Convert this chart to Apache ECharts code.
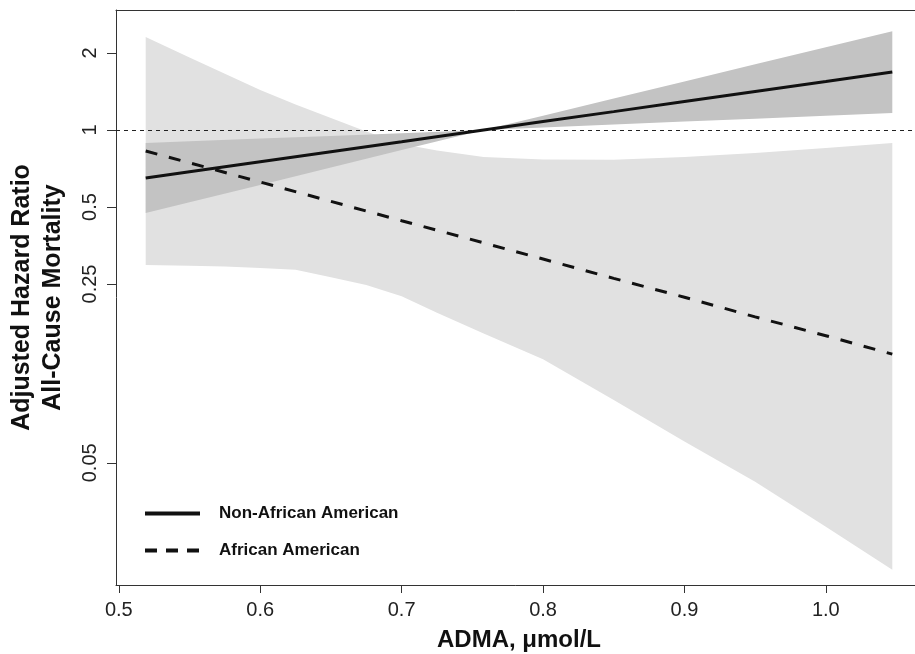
<!DOCTYPE html>
<html><head><meta charset="utf-8">
<script src="https://cdn.jsdelivr.net/npm/echarts@6/dist/echarts.min.js"></script>
<style>html,body{margin:0;padding:0;background:#fff}#c{width:915px;height:654px}</style>
</head><body><div id="c"></div>
<script>
// ADMA (µmol/L) positions where the fitted lines and the Non-African American band were read
const admaX = [0.519, 0.55, 0.60, 0.65, 0.70, 0.758, 0.80, 0.85, 0.90, 0.95, 1.00, 1.047];
// Non-African American: hazard ratio fit and 95% CI
const nonAAFit   = [0.649, 0.687, 0.752, 0.823, 0.900, 1.000, 1.079, 1.180, 1.292, 1.414, 1.547, 1.686];
const nonAALower = [0.474, 0.522, 0.610, 0.714, 0.835, 1.000, 1.023, 1.050, 1.079, 1.107, 1.136, 1.165];
const nonAAUpper = [0.890, 0.903, 0.926, 0.948, 0.972, 1.000, 1.138, 1.328, 1.549, 1.806, 2.107, 2.435];
// African American: hazard ratio fit (at admaX)
const aaFit   = [0.828, 0.744, 0.626, 0.526, 0.442, 0.362, 0.313, 0.263, 0.222, 0.186, 0.157, 0.133];
// African American 95% CI, read at its own ADMA positions
const aaBandX = [0.519, 0.55, 0.575, 0.60, 0.625, 0.65, 0.675, 0.70, 0.725, 0.758, 0.80, 0.85, 0.90, 0.95, 1.00, 1.047];
const aaLower = [0.297, 0.295, 0.293, 0.289, 0.284, 0.266, 0.248, 0.224, 0.193, 0.160, 0.127, 0.088, 0.0606, 0.0422, 0.0281, 0.0191];
const aaUpper = [2.31, 1.92, 1.66, 1.433, 1.258, 1.114, 0.987, 0.882, 0.832, 0.784, 0.767, 0.765, 0.784, 0.813, 0.850, 0.890];
// Axis ticks
const xTicks = [0.5, 0.6, 0.7, 0.8, 0.9, 1.0];
const xTickLabels = ['0.5', '0.6', '0.7', '0.8', '0.9', '1.0'];
const yTicks = [0.05, 0.25, 0.5, 1, 2];
const yTickLabels = ['0.05', '0.25', '0.5', '1', '2'];
const seriesNames = ['Non-African American', 'African American'];
const xTitle = 'ADMA, μmol/L';
const yTitle = 'Adjusted Hazard Ratio\nAll-Cause Mortality';

const FONT = '"Liberation Sans", Arial, Helvetica, sans-serif';
const ln = Math.log;
const X_MIN = 0.498, X_MAX = 1.068;

function nearestLabel(v, ticks, labels, f) {
  let best = 0, d = Infinity;
  ticks.forEach((t, i) => { const dd = Math.abs(f(t) - v); if (dd < d) { d = dd; best = i; } });
  return labels[best];
}

function bandSeries(name, xs, lower, upper, color, z) {
  const rows = xs.map((x, i) => [x, ln(lower[i]), ln(upper[i])]);
  return {
    name: name, type: 'custom', silent: true, z: z, data: rows,
    encode: { x: 0, y: [1, 2] },
    renderItem: function (params, api) {
      if (params.dataIndex !== 0) return null;
      const top = rows.map(r => api.coord([r[0], r[2]]));
      const bot = rows.map(r => api.coord([r[0], r[1]])).reverse();
      return { type: 'polygon', shape: { points: top.concat(bot) }, style: { fill: color, stroke: null } };
    }
  };
}

const chart = echarts.init(document.getElementById('c'), null, { renderer: 'canvas' });
chart.setOption({
  animation: false,
  backgroundColor: '#ffffff',
  grid: { left: 116, top: 10, height: 575, width: 806, outerBoundsMode: 'none', containLabel: false, show: false },
  legend: {
    orient: 'vertical', left: 143, top: 505, padding: 0, itemWidth: 55, itemHeight: 20, itemGap: 20,
    itemStyle: { opacity: 0 },
    lineStyle: { width: 4 },
    textStyle: { fontFamily: FONT, fontSize: 17, fontWeight: 'bold', color: '#111', padding: [0, 0, 0, 14] },
    data: [
      { name: seriesNames[0] },
      { name: seriesNames[1], lineStyle: { type: [12, 9], width: 4 } }
    ]
  },
  xAxis: [{
    type: 'value', min: X_MIN, max: X_MAX, position: 'bottom',
    splitLine: { show: false },
    axisLine: { show: true, onZero: false, lineStyle: { color: '#333', width: 1 } },
    axisTick: { show: true, length: 8, customValues: xTicks, lineStyle: { color: '#333' } },
    axisLabel: { customValues: xTicks, margin: 15, fontSize: 20, color: '#222', fontFamily: FONT,
      formatter: v => nearestLabel(v, xTicks, xTickLabels, t => t) },
    name: xTitle, nameLocation: 'middle', nameGap: 43,
    nameTextStyle: { fontFamily: FONT, fontSize: 24, fontWeight: 'bold', color: '#111' }
  }, {
    type: 'value', min: X_MIN, max: X_MAX, position: 'top',
    splitLine: { show: false },
    axisLine: { show: true, onZero: false, lineStyle: { color: '#333', width: 1 } },
    axisTick: { show: false }, axisLabel: { show: false }
  }],
  yAxis: {
    type: 'value', min: -4.0954, max: 1.0801,
    splitLine: { show: false },
    axisLine: { show: true, onZero: false, lineStyle: { color: '#333', width: 1 } },
    axisTick: { show: true, length: 9, customValues: yTicks.map(ln), lineStyle: { color: '#333' } },
    axisLabel: { customValues: yTicks.map(ln), rotate: 90, margin: 16, fontSize: 20, color: '#222', fontFamily: FONT,
      formatter: v => nearestLabel(v, yTicks, yTickLabels, ln) },
    name: yTitle, nameLocation: 'middle', nameGap: 47, nameRotate: 90,
    nameTextStyle: { fontFamily: FONT, fontSize: 25, fontWeight: 'bold', color: '#111', lineHeight: 31, align: 'center' }
  },
  series: [
    bandSeries('aaBand', aaBandX, aaLower, aaUpper, '#e1e1e1', 1),
    bandSeries('nonAABand', admaX, nonAALower, nonAAUpper, '#c3c3c3', 2),
    {
      name: seriesNames[0], type: 'line', z: 4, symbol: 'none', silent: true,
      data: admaX.map((x, i) => [x, ln(nonAAFit[i])]),
      lineStyle: { color: '#111', width: 3, type: 'solid' },
      markLine: {
        silent: true, symbol: 'none', label: { show: false }, z: 3,
        lineStyle: { color: '#222', width: 1, type: [4, 4] },
        data: [{ yAxis: 0 }]
      }
    },
    {
      name: seriesNames[1], type: 'line', z: 4, symbol: 'none', silent: true,
      data: admaX.map((x, i) => [x, ln(aaFit[i])]),
      lineStyle: { color: '#111', width: 3, type: [12, 12] }
    }
  ]
});
</script>
</body></html>
